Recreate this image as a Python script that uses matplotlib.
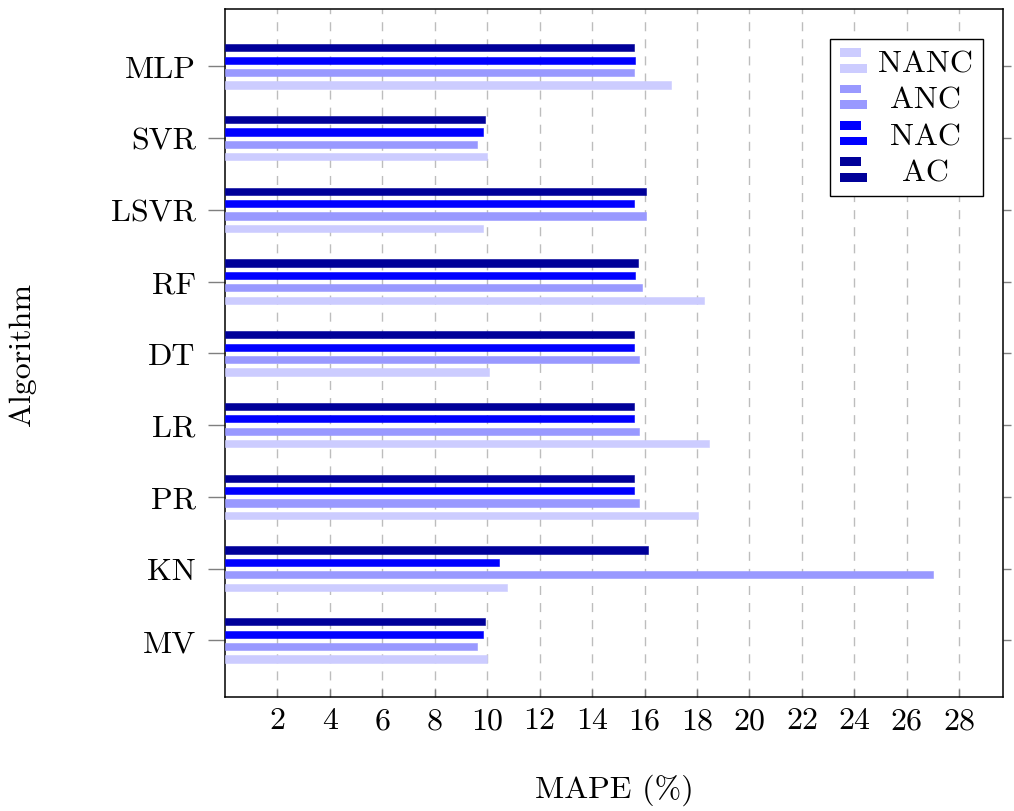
import numpy as np
from matplotlib import pyplot as plt
from matplotlib.patches import Rectangle
from matplotlib.legend_handler import HandlerBase
from matplotlib.transforms import Affine2D

plt.rcParams['font.family'] = ['cmr10', 'DejaVu Serif']
plt.rcParams['mathtext.fontset'] = 'cm'
plt.rcParams['axes.unicode_minus'] = False

# algorithms, listed top to bottom as in the chart
algorithms = ['MLP', 'SVR', 'LSVR', 'RF', 'DT', 'LR', 'PR', 'KN', 'MV']
series = ['NANC', 'ANC', 'NAC', 'AC']

nanc = [17.0, 10.0, 9.85, 18.25, 10.05, 18.45, 18.05, 10.75, 10.0]
anc = [15.6, 9.6, 16.05, 15.9, 15.8, 15.8, 15.8, 27.0, 9.6]
nac = [15.65, 9.85, 15.6, 15.65, 15.6, 15.6, 15.6, 10.45, 9.85]
ac = [15.6, 9.9, 16.05, 15.75, 15.6, 15.6, 15.6, 16.15, 9.9]

xticks = list(range(2, 30, 2))

colors = ['#ccccff', '#9999ff', '#0000ff', '#000099']
fs = 23


class TwoBarHandler(HandlerBase):
    # pgfplots style bar legend: short bar on top, longer bar below
    def create_artists(self, legend, orig_handle, xdescent, ydescent,
                       width, height, fontsize, trans):
        fc = orig_handle.get_facecolor()
        h = height * 0.36
        top = Rectangle((-xdescent, -ydescent + height - h), width * 0.77, h,
                        facecolor=fc, edgecolor='none', transform=trans)
        bot = Rectangle((-xdescent, -ydescent), width, h,
                        facecolor=fc, edgecolor='none', transform=trans)
        return [top, bot]


fig = plt.figure(figsize=(10.14, 8.12), dpi=100)
ax = fig.add_axes([225 / 1014, 1 - 698 / 812, 778 / 1014, 688 / 812])

pos = np.arange(len(algorithms))[::-1]
step = 0.173
bar_h = 0.1
handles = []
for i, (name, vals) in enumerate(zip(series, [nanc, anc, nac, ac])):
    b = ax.barh(pos + (i - 1.5) * step, vals, height=bar_h, color=colors[i],
                edgecolor=colors[i], linewidth=0.4, label=name, zorder=3)
    handles.append(b[0])

ax.set_xlim(0, 29.67)
ax.set_ylim(-0.79, 8.8)
ax.set_xticks(xticks)
ax.set_yticks(pos)
ax.set_yticklabels(algorithms)

ax.grid(axis='x', color='#bdbdbd', linestyle=(0, (6.5, 5.8)), linewidth=1.0, zorder=0)
ax.tick_params(axis='x', direction='in', length=6, width=1, color='#7f7f7f',
               labelsize=fs, pad=7)
ax.tick_params(axis='y', direction='out', length=12, width=1, color='#7f7f7f',
               labelsize=fs, pad=9, right=True)
for t in ax.yaxis.get_major_ticks():
    t.tick2line.set_markersize(6)
for s in ax.spines.values():
    s.set_linewidth(1.1)

ax.set_xlabel('MAPE (%)', fontsize=fs, labelpad=28)
ax.set_ylabel('Algorithm', fontsize=fs, labelpad=54)

leg = ax.legend(handles=handles, labels=series, loc='upper right',
                bbox_to_anchor=(0.974, 0.957), borderaxespad=0, fontsize=fs,
                handler_map={h: TwoBarHandler() for h in handles},
                handlelength=0.85, handleheight=0.8, handletextpad=0.35,
                labelspacing=0.22, borderpad=0.3, fancybox=False,
                framealpha=1, edgecolor='black')
leg.get_frame().set_linewidth(1.0)

# centre the legend labels in their column, as pgfplots does
fig.canvas.draw()
r = fig.canvas.get_renderer()
widths = [t.get_window_extent(r).width for t in leg.get_texts()]
wmax = max(widths)
for t, w in zip(leg.get_texts(), widths):
    t.set_transform(t.get_transform() + Affine2D().translate((wmax - w) / 2, 0))

plt.savefig('out.png', dpi=100)
